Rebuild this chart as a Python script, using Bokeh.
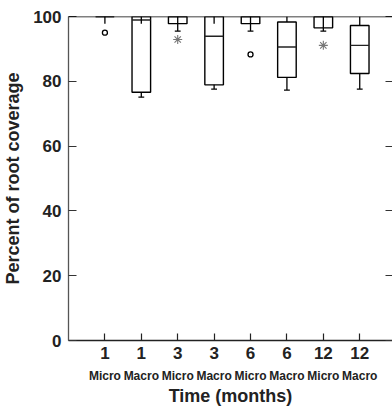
from bokeh.plotting import figure
from bokeh.models import Range1d, LinearAxis, FixedTicker, Span
from bokeh.embed import file_html
from bokeh.resources import INLINE

# ---- data ----
months = ["1", "1", "3", "3", "6", "6", "12", "12"]
groups = ["Micro", "Macro", "Micro", "Macro", "Micro", "Macro", "Micro", "Macro"]
q1 = [100, 76.6, 97.8, 78.9, 97.8, 81.2, 96.5, 82.4]
median = [100, 98.9, 100, 93.9, 100, 90.6, 100, 91.1]
q3 = [100, 100, 100, 100, 100, 98.3, 100, 97.2]
whisker_low = [97.8, 75.1, 95.5, 77.6, 95.5, 77.3, 95.5, 77.6]
whisker_low_start = [100, 76.6, 100, 78.9, 100, 81.2, 100, 82.4]
whisker_high = [100, 100, 100, 100, 100, 100, 100, 100]
whisker_high_end = [100, 97.8, 100, 97.8, 100, 98.3, 100, 97.2]
has_cap = [False, True, True, True, True, True, True, True]
circle_group = [1, 5]
circle_value = [95.0, 88.3]
star_group = [3, 7]
star_value = [92.9, 91.1]

pos = list(range(1, len(months) + 1))
BOX_W = 0.51
CAP_W = 0.16
FONT = "Liberation Sans"

p = figure(width=392, height=408, output_backend="svg", toolbar_location=None,
           x_range=Range1d(0, 8.9), y_range=Range1d(0, 100),
           min_border_left=60, min_border_right=0, min_border_top=16,
           min_border_bottom=60)
p.grid.visible = False
p.outline_line_color = None
p.background_fill_color = "white"
p.border_fill_color = "white"

# top frame line
p.add_layout(Span(location=100, dimension="width", line_color="black", line_width=1.3))

# y axis (left)
ya = p.yaxis[0]
ya.ticker = FixedTicker(ticks=[0, 20, 40, 60, 80, 100])
ya.axis_label = "Percent of root coverage"
ya.axis_label_text_font = FONT
ya.axis_label_text_font_style = "bold"
ya.axis_label_text_font_size = "18px"
ya.axis_label_text_color = "#222222"
ya.axis_label_standoff = 7
ya.major_label_text_font = FONT
ya.major_label_text_font_style = "bold"
ya.major_label_text_font_size = "17px"
ya.major_label_text_color = "#222222"
ya.major_label_standoff = 7
ya.major_tick_in = 8
ya.major_tick_out = 0
ya.minor_tick_line_color = None
ya.axis_line_color = "#555555"
ya.axis_line_width = 1.3
ya.major_tick_line_color = "#333333"
ya.major_tick_line_width = 1.2

# right axis: only inward ticks
ra = LinearAxis(ticker=FixedTicker(ticks=[0, 20, 40, 60, 80, 100]),
                axis_line_color=None, major_tick_in=7, major_tick_out=0,
                minor_tick_line_color=None, major_label_text_font_size="0px",
                major_label_standoff=0, major_tick_line_color="#333333")
p.add_layout(ra, "right")

# x axis: months
xa = p.xaxis[0]
xa.ticker = FixedTicker(ticks=pos)
xa.major_label_overrides = {i: m for i, m in zip(pos, months)}
xa.major_label_text_font = FONT
xa.major_label_text_font_style = "bold"
xa.major_label_text_font_size = "17px"
xa.major_label_text_color = "#222222"
xa.major_label_standoff = 6
xa.major_tick_in = 7
xa.major_tick_out = 0
xa.minor_tick_line_color = None
xa.axis_line_color = "#222222"
xa.axis_line_width = 1.3
xa.major_tick_line_color = "#222222"
xa.major_tick_line_width = 1.2

# second x axis row: Micro / Macro and the title
xb = LinearAxis(ticker=FixedTicker(ticks=pos),
                major_label_overrides={i: g for i, g in zip(pos, groups)},
                axis_line_color=None, major_tick_line_color=None,
                minor_tick_line_color=None, major_tick_in=0, major_tick_out=0,
                major_label_standoff=7,
                major_label_text_font=FONT, major_label_text_font_style="bold",
                major_label_text_font_size="12px", major_label_text_color="#222222",
                axis_label="Time (months)", axis_label_text_font=FONT,
                axis_label_text_font_style="bold", axis_label_text_font_size="18px",
                axis_label_text_color="#222222", axis_label_standoff=0)
p.add_layout(xb, "below")

# boxes
left = [x - BOX_W / 2 for x in pos]
right = [x + BOX_W / 2 for x in pos]
p.quad(left=left, right=right, bottom=q1, top=q3, fill_color=None,
       line_color="black", line_width=1.4)
p.segment(x0=left, x1=right, y0=median, y1=median, line_color="#222222", line_width=1.4)

# whiskers
p.segment(x0=pos, x1=pos, y0=whisker_low_start, y1=whisker_low, line_color="black", line_width=1.3)
p.segment(x0=pos, x1=pos, y0=whisker_high, y1=whisker_high_end, line_color="black", line_width=1.3)
cx = [x for x, c in zip(pos, has_cap) if c]
cy = [y for y, c in zip(whisker_low, has_cap) if c]
p.segment(x0=[x - CAP_W / 2 for x in cx], x1=[x + CAP_W / 2 for x in cx],
          y0=cy, y1=cy, line_color="black", line_width=1.3)

# outliers
p.scatter(x=circle_group, y=circle_value, marker="circle", size=5,
          fill_color="white", line_color="black", line_width=1.3)
p.scatter(x=star_group, y=star_value, marker="asterisk", size=9,
          line_color="#777777", line_width=1.1)

open("out.html", "w").write(file_html(p, INLINE))
